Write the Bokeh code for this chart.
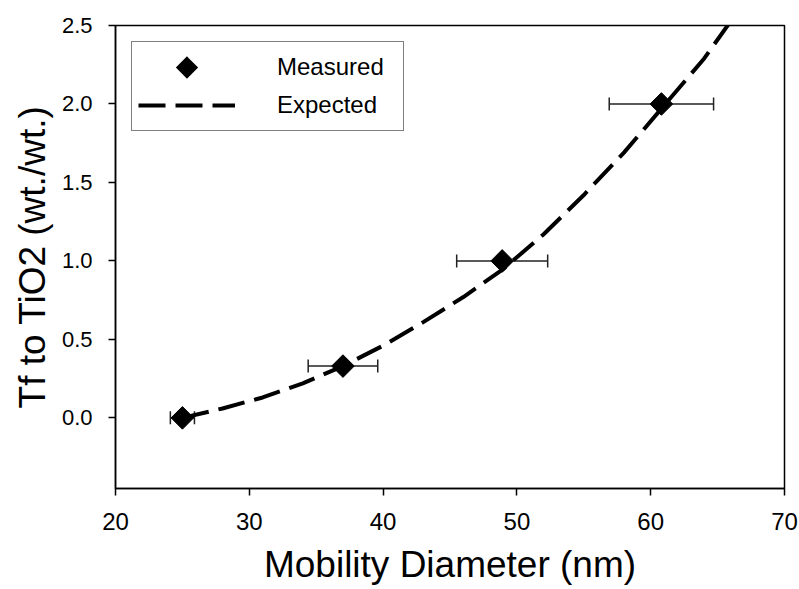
import math
from bokeh.plotting import figure
from bokeh.models import (ColumnDataSource, Whisker, TeeHead, FixedTicker,
                          NumeralTickFormatter, Legend, LegendItem, Range1d)
from bokeh.embed import file_html
from bokeh.resources import INLINE

# Measured points (mobility diameter nm, Tf/TiO2 wt ratio, x error)
meas_x = [25.0, 37.0, 48.9, 60.8]
meas_y = [0.0, 0.33, 1.0, 2.0]
meas_xerr = [0.9, 2.6, 3.4, 3.9]

# Expected curve
exp_x = [25, 28, 31, 34, 37, 40, 43, 46, 49, 52, 55, 58, 61, 64, 66]
exp_y = [0.0, 0.06, 0.13, 0.22, 0.33, 0.46, 0.61, 0.77, 0.95, 1.17, 1.42, 1.69, 1.99, 2.29, 2.53]

x_ticks = [20, 30, 40, 50, 60, 70]
y_ticks = [0.0, 0.5, 1.0, 1.5, 2.0, 2.5]

FONT = "Liberation Sans"

p = figure(width=799, height=589,
           x_range=Range1d(20, 70), y_range=Range1d(-0.45, 2.5),
           output_backend="svg", toolbar_location=None,
           min_border_left=115, min_border_right=15,
           min_border_top=25, min_border_bottom=101)

p.background_fill_color = "white"
p.border_fill_color = "white"
p.outline_line_color = "black"
p.outline_line_width = 1.5
p.xgrid.visible = False
p.ygrid.visible = False

for ax in (p.xaxis[0], p.yaxis[0]):
    ax.axis_line_color = "black"
    ax.axis_line_width = 1.5
    ax.major_tick_line_color = "black"
    ax.major_tick_line_width = 1.5
    ax.major_tick_in = 0
    ax.major_tick_out = 7
    ax.minor_tick_line_color = None
    ax.major_label_text_font = FONT
    ax.axis_label_text_font = FONT
    ax.axis_label_text_font_style = "normal"
    ax.major_label_text_color = "black"
    ax.axis_label_text_color = "black"

p.xaxis.ticker = FixedTicker(ticks=x_ticks)
p.yaxis.ticker = FixedTicker(ticks=y_ticks)
p.yaxis.formatter = NumeralTickFormatter(format="0.0")
p.xaxis.major_label_text_font_size = "24px"
p.yaxis.major_label_text_font_size = "22px"
p.xaxis.major_label_standoff = 17
p.yaxis.major_label_standoff = 16
p.xaxis.axis_label = "Mobility Diameter (nm)"
p.yaxis.axis_label = "Tf to TiO2 (wt./wt.)"
p.xaxis.axis_label_text_font_size = "37px"
p.yaxis.axis_label_text_font_size = "37px"
p.xaxis.axis_label_standoff = 11
p.yaxis.axis_label_standoff = 6

src = ColumnDataSource(dict(
    x=meas_x, y=meas_y,
    lo=[a - e for a, e in zip(meas_x, meas_xerr)],
    hi=[a + e for a, e in zip(meas_x, meas_xerr)],
))

whisk = Whisker(source=src, base="y", lower="lo", upper="hi", dimension="width",
                line_color="#222222", line_width=1.5, level="underlay",
                lower_head=TeeHead(size=13, line_color="#222222", line_width=1.5),
                upper_head=TeeHead(size=13, line_color="#222222", line_width=1.5))
p.add_layout(whisk)

exp_r = p.line(exp_x, exp_y, line_color="black", line_width=4, line_dash="27 10")
meas_r = p.scatter("x", "y", source=src, marker="square", size=16, angle=math.pi / 4,
                   fill_color="black", line_color="black")

# legend-only symbol (the legend does not rotate markers); NaN so nothing is plotted
leg_src = ColumnDataSource(dict(x=[float("nan")], y=[float("nan")]))
try:
    leg_r = p.ngon("x", "y", source=leg_src, radius=1.0, n=4,
                   fill_color="black", line_color="black", line_width=5,
                   line_join="miter")
except Exception:
    leg_r = p.scatter("x", "y", source=leg_src, marker="diamond", size=16,
                      fill_color="black", line_color="black", line_width=3)

legend = Legend(items=[LegendItem(label="Measured", renderers=[leg_r]),
                       LegendItem(label="Expected", renderers=[exp_r])],
                location="top_left", margin=16, padding=6, spacing=0,
                glyph_width=97, glyph_height=38, label_height=38,
                label_standoff=42, label_width=120,
                label_text_font=FONT, label_text_font_size="24px",
                label_text_color="black",
                border_line_color="black", border_line_width=1.5,
                background_fill_color="white", background_fill_alpha=1.0)
p.add_layout(legend)

open("out.html", "w").write(file_html(p, INLINE))
